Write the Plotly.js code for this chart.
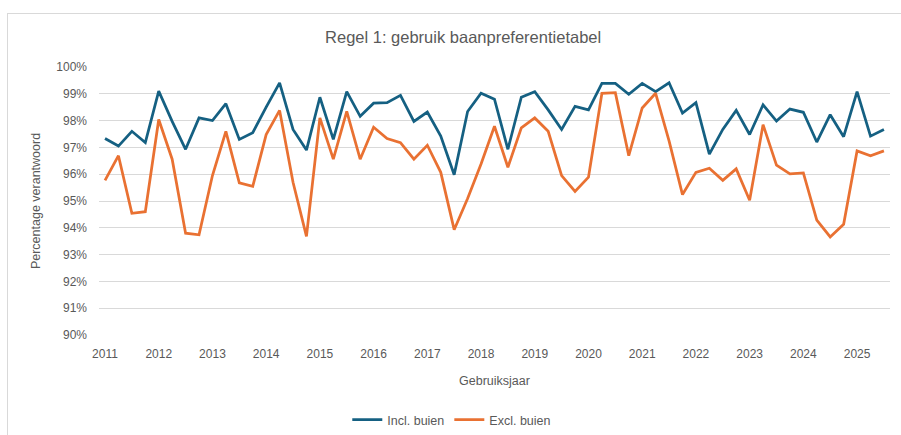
<!DOCTYPE html>
<html>
<head>
<meta charset="utf-8">
<script src="https://cdn.plot.ly/plotly-3.0.1.min.js"></script>
<style>
  html, body { margin: 0; padding: 0; background: #ffffff; }
  #frame { position: absolute; left: 7px; top: 13px; width: 900px; height: 430px; border: 1px solid #d9d9d9; box-sizing: border-box; }
  #chart { position: absolute; left: 0; top: 0; width: 901px; height: 435px; }
</style>
</head>
<body>
<div id="frame"></div>
<div id="chart"></div>
<script>
// Data: quarterly values, starting 2011 Q1
const startYear = 2011;
const seriesNames = ["Incl. buien", "Excl. buien"];
const inclBuien = [97.33, 97.05, 97.6, 97.18, 99.1, 97.97, 96.93, 98.1, 98.0, 98.63,
                   97.3, 97.55, 98.5, 99.41, 97.67, 96.9, 98.87, 97.3, 99.08, 98.16,
                   98.65, 98.67, 98.94, 97.97, 98.32, 97.42, 95.98, 98.34, 99.02, 98.8,
                   96.93, 98.87, 99.08, 98.4, 97.67, 98.53, 98.4, 99.39, 99.39, 98.98,
                   99.39, 99.08, 99.41, 98.28, 98.67, 96.75, 97.67, 98.38, 97.48, 98.59,
                   97.98, 98.43, 98.31, 97.2, 98.22, 97.4, 99.08, 97.42, 97.67];
const exclBuien = [95.77, 96.69, 94.54, 94.6, 98.04, 96.56, 93.8, 93.74, 95.95, 97.6,
                   95.68, 95.55, 97.48, 98.38, 95.7, 93.68, 98.1, 96.56, 98.34, 96.56,
                   97.75, 97.33, 97.18, 96.56, 97.08, 96.07, 93.93, 95.09, 96.38, 97.79,
                   96.26, 97.73, 98.1, 97.6, 95.95, 95.36, 95.89, 99.02, 99.04, 96.69,
                   98.47, 99.02, 97.24, 95.24, 96.07, 96.22, 95.77, 96.2, 95.03, 97.85,
                   96.34, 96.01, 96.05, 94.29, 93.66, 94.13, 96.87, 96.69, 96.87];
const yearTicks = [2011, 2012, 2013, 2014, 2015, 2016, 2017, 2018, 2019, 2020, 2021, 2022, 2023, 2024, 2025];
const yTicks = [90, 91, 92, 93, 94, 95, 96, 97, 98, 99, 100];
const yTickText = yTicks.map(v => v + "%");

const quarterX = inclBuien.map((_, i) => startYear + i / 4);

const FONT = "Liberation Sans, Arial, sans-serif";
const GREY = "#595959";

const traces = [
  { x: quarterX, y: inclBuien, name: seriesNames[0], type: "scatter", mode: "lines",
    line: { color: "#156082", width: 2.75 } },
  { x: quarterX, y: exclBuien, name: seriesNames[1], type: "scatter", mode: "lines",
    line: { color: "#E97132", width: 2.75 } }
];

const layout = {
  width: 901, height: 435,
  paper_bgcolor: "rgba(0,0,0,0)", plot_bgcolor: "rgba(0,0,0,0)",
  margin: { l: 99, r: 11, t: 67, b: 100, autoexpand: false },
  font: { family: FONT, color: GREY, size: 12 },
  title: { text: "Regel 1: gebruik baanpreferentietabel", x: 0.514, xanchor: "center",
           y: 1 - 37 / 435, yanchor: "middle", font: { family: FONT, size: 16.5, color: GREY } },
  xaxis: {
    range: [2010.888, 2025.613], tickvals: yearTicks, ticktext: yearTicks.map(String),
    showgrid: false, zeroline: false, showline: false, ticks: "", automargin: false,
    tickfont: { size: 12, color: GREY }, ticklabelstandoff: 10,
    title: { text: "Gebruiksjaar", font: { size: 12.5, color: GREY }, standoff: 16 }
  },
  yaxis: {
    range: [90, 100], tickvals: yTicks, ticktext: yTickText, automargin: false,
    showgrid: true, gridcolor: "#d9d9d9", gridwidth: 1, zeroline: false, showline: false, ticks: "",
    tickfont: { size: 12, color: GREY }, ticklabelstandoff: 11,
    title: { text: "Percentage verantwoord", font: { size: 12.5, color: GREY }, standoff: 12 }
  },
  showlegend: true,
  legend: { orientation: "h", x: 0.446, xanchor: "center", yref: "container", y: 15 / 435, yanchor: "middle",
            font: { size: 12.5, color: GREY }, bgcolor: "rgba(0,0,0,0)" }
};

Plotly.newPlot("chart", traces, layout, { displayModeBar: false, staticPlot: true });
</script>
</body>
</html>
